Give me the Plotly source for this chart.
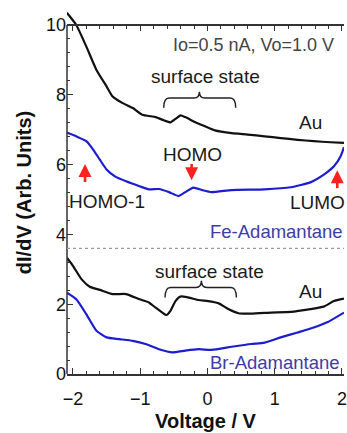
import numpy as np
import plotly.graph_objects as go

# ---------------- data ----------------
fe_au_v = [-2.09, -1.95, -1.80, -1.65, -1.50, -1.41, -1.26, -1.11, -0.97, -0.77, -0.65, -0.55,
           -0.475, -0.40, -0.33, -0.18, -0.03, 0.11, 0.36, 0.60, 0.85, 1.09, 1.34, 1.58, 1.83, 2.03]
fe_au = [10.35, 10.0, 9.38, 8.71, 8.24, 7.95, 7.76, 7.62, 7.43, 7.36, 7.27, 7.21,
         7.31, 7.41, 7.36, 7.21, 7.09, 6.98, 6.90, 6.86, 6.81, 6.76, 6.71, 6.67, 6.64, 6.62]

fe_v = [-2.09, -1.95, -1.80, -1.70, -1.60, -1.50, -1.38, -1.21, -1.01, -0.87, -0.72, -0.57,
        -0.43, -0.33, -0.21, -0.08, 0.06, 0.36, 0.85, 1.24, 1.53, 1.73, 1.88, 1.98, 2.03]
fe = [6.92, 6.81, 6.67, 6.43, 6.14, 5.86, 5.67, 5.52, 5.38, 5.29, 5.30, 5.21,
      5.10, 5.21, 5.34, 5.27, 5.21, 5.27, 5.29, 5.35, 5.49, 5.71, 5.95, 6.24, 6.50]

br_au_v = [-2.09, -2.0, -1.87, -1.75, -1.60, -1.41, -1.21, -1.01, -0.87, -0.77, -0.67, -0.61,
           -0.55, -0.475, -0.40, -0.28, -0.13, 0.01, 0.16, 0.31, 0.46, 0.65, 0.95, 1.24, 1.53,
           1.73, 1.88, 2.03]
br_au = [3.33, 3.10, 2.71, 2.50, 2.41, 2.29, 2.29, 2.14, 2.05, 1.90, 1.76, 1.69,
         1.81, 2.09, 2.22, 2.19, 2.12, 2.09, 2.03, 1.86, 1.74, 1.73, 1.76, 1.78, 1.86,
         1.93, 2.09, 2.16]

br_v = [-2.09, -1.95, -1.80, -1.65, -1.50, -1.31, -1.11, -0.92, -0.72, -0.52, -0.33, -0.13,
        0.06, 0.36, 0.65, 0.85, 1.09, 1.34, 1.58, 1.78, 2.03]
br = [2.33, 2.14, 1.71, 1.24, 1.05, 1.00, 0.95, 0.86, 0.71, 0.62, 0.67, 0.71,
      0.69, 0.78, 0.86, 0.90, 1.05, 1.19, 1.33, 1.48, 1.76]

x_ticks = [-2, -1, 0, 1, 2]
y_ticks = [0, 2, 4, 6, 8, 10]
separator_y = 3.6

# braces: (left V, right V, tip V, hook-end y, bar y, tip y)
braces = [(-0.65, 0.42, -0.12, 7.63, 7.91, 8.09),
          (-0.63, 0.43, -0.09, 2.19, 2.48, 2.67)]

# arrows: (x, head y, tail y)
arrows = [(-1.82, 6.02, 5.46), (-0.235, 5.55, 6.06), (1.93, 5.84, 5.28)]

BLACK = "#111111"
BLUE = "#1c1cd0"
LBLUE = "#3d3da6"
RED = "#ff2020"
AX = "#333333"

fig = go.Figure()
line_kw = dict(shape="spline", smoothing=0.5, width=2.2)
fig.add_trace(go.Scatter(x=fe_au_v, y=fe_au, mode="lines", line=dict(color=BLACK, **line_kw)))
fig.add_trace(go.Scatter(x=fe_v, y=fe, mode="lines", line=dict(color=BLUE, **line_kw)))
fig.add_trace(go.Scatter(x=br_au_v, y=br_au, mode="lines", line=dict(color=BLACK, **line_kw)))
fig.add_trace(go.Scatter(x=br_v, y=br, mode="lines", line=dict(color=BLUE, **line_kw)))
# invisible trace to activate the top frame axis
fig.add_trace(go.Scatter(x=[x_ticks[0]], y=[y_ticks[0]], xaxis="x2", mode="markers",
                         marker=dict(opacity=0), hoverinfo="skip"))

tickfont = dict(family="Liberation Sans, Arial", size=18, color="#111")
YTOP = 10.4
XR = [-2.088, 2.03]

fig.update_layout(
    width=347, height=433,
    margin=dict(l=67, r=0, t=11, b=59),
    paper_bgcolor="white", plot_bgcolor="white",
    showlegend=False,
    xaxis=dict(range=XR, tickvals=x_ticks, ticks="inside", ticklen=6, tickwidth=1.3,
               tickcolor=AX, showline=True, linecolor=AX, linewidth=1.5, mirror=False,
               showgrid=False, zeroline=False, tickfont=tickfont, ticklabeloverflow="allow",
               ticklabelstandoff=8,
               minor=dict(dtick=0.2, ticks="inside", ticklen=3, tickcolor=AX, tickwidth=1.2),
               title=dict(text="<b>Voltage / V</b>", font=dict(family="Liberation Sans, Arial", size=20, color="#111"),
                          standoff=6)),
    xaxis2=dict(range=XR, overlaying="x", side="top", anchor="free", position=10 / YTOP,
                tickvals=x_ticks, ticks="inside", ticklen=5, tickwidth=1.3, tickcolor=AX,
                showline=True, linecolor=AX, linewidth=1.5, showticklabels=False,
                showgrid=False, zeroline=False,
                minor=dict(dtick=0.2, ticks="inside", ticklen=3, tickcolor=AX, tickwidth=1.2)),
    yaxis=dict(range=[0, YTOP], tickvals=y_ticks, ticks="inside", ticklen=6, tickwidth=1.3,
               tickcolor=AX, showline=False, showgrid=False, zeroline=False, tickfont=tickfont,
               minor=dict(tickmode="array", tickvals=[float(v) for v in np.arange(0.4, 10, 0.4)],
                          ticks="inside", ticklen=3, tickcolor=AX, tickwidth=1.2),
               title=dict(text="<b>dI/dV (Arb. Units)</b>", font=dict(family="Liberation Sans, Arial", size=20, color="#111"),
                          standoff=8)),
)

shapes = []
# left spine stopping at the top frame
shapes.append(dict(type="line", xref="x domain", yref="y", x0=0, x1=0, y0=0, y1=y_ticks[-1],
                   line=dict(color=AX, width=1.5)))
# dotted separator
shapes.append(dict(type="line", xref="x domain", yref="y", x0=0, x1=1, y0=separator_y, y1=separator_y,
                   line=dict(color="#9a9a9a", width=1.2, dash="dot")))
for (x0, x1, xm, yb, ybar, yt) in braces:
    d = 0.08
    path = (f"M{x0},{yb} Q{x0},{ybar} {x0 + d},{ybar} L{xm - d},{ybar} Q{xm},{ybar} {xm},{yt} "
            f"Q{xm},{ybar} {xm + d},{ybar} L{x1 - d},{ybar} Q{x1},{ybar} {x1},{yb}")
    shapes.append(dict(type="path", xref="x", yref="y", path=path, line=dict(color="#222", width=1.5)))
fig.update_layout(shapes=shapes)

ann = []
def txt(x, y, s, color="#1a1a1a", size=19, family="Liberation Sans, Arial", xanchor="center"):
    ann.append(dict(x=x, y=y, xref="x", yref="y", text=s, showarrow=False, xanchor=xanchor,
                    yanchor="middle", font=dict(family=family, size=size, color=color)))

txt(0.68, 9.43, "Io=0.5 nA, Vo=1.0 V", color="#444", size=18)
txt(-0.03, 8.51, "surface state")
txt(1.53, 7.20, "Au")
txt(-0.22, 6.29, "HOMO")
txt(-1.49, 4.94, "HOMO-1")
txt(1.63, 4.91, "LUMO")
txt(0.015, 4.09, "Fe-Adamantane", color=LBLUE, size=18.5, xanchor="left")
txt(0.015, 0.34, "Br-Adamantane", color=LBLUE, size=18.5, xanchor="left")
txt(0.03, 2.94, "surface state")
txt(1.53, 2.37, "Au")

for (x, yh, yt) in arrows:
    ann.append(dict(x=x, y=yh, xref="x", yref="y", ax=x, ay=yt, axref="x", ayref="y",
                    showarrow=True, arrowhead=2, arrowsize=1.0, arrowwidth=2.6, arrowcolor=RED, text=""))
fig.update_layout(annotations=ann)

fig.write_html("out.html", config={"displayModeBar": False},
               post_script="document.body.style.margin='0';document.body.style.overflow='hidden';")
